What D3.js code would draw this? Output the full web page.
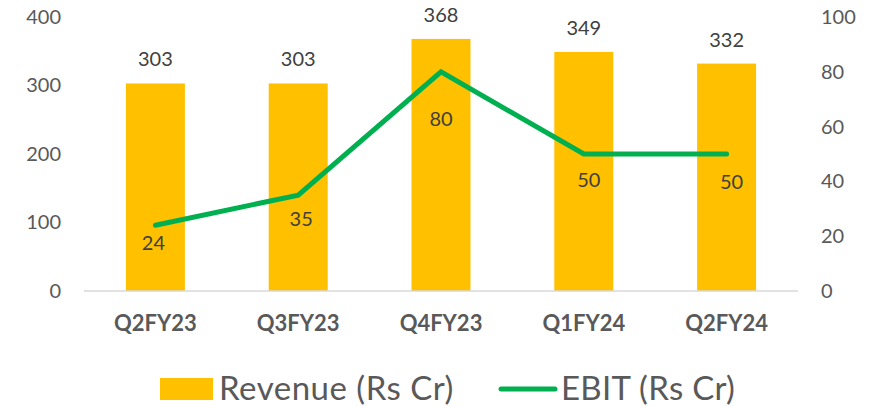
<!DOCTYPE html>
<html>
<head>
<meta charset="utf-8">
<script src="https://cdn.jsdelivr.net/npm/d3@7"></script>
<style>
  body { margin: 0; background: #fff; }
  svg { display: block; font-family: Lato, "Open Sans", sans-serif; }
</style>
</head>
<body>
<div id="chart"></div>
<script>
// data
const quarters = ["Q2FY23", "Q3FY23", "Q4FY23", "Q1FY24", "Q2FY24"];
const revenue = [303, 303, 368, 349, 332];
const ebit = [24, 35, 80, 50, 50];
const leftTicks = [0, 100, 200, 300, 400];
const rightTicks = [0, 20, 40, 60, 80, 100];

// hand placed EBIT label nudges (as in the original deck)
const ebitLabelDx = [-2, 3, 0, 5, 5];
const ebitLabelDy = [18, 24, 47, 26, 28];

const width = 870, height = 407;
const plot = { left: 84, right: 798, top: 17, bottom: 291 };

const svg = d3.select("#chart")
  .append("svg")
    .attr("width", width)
    .attr("height", height);

const x = d3.scaleBand()
  .domain(quarters)
  .range([plot.left, plot.right])
  .paddingInner(0.587)
  .paddingOuter(0.2935);

const yL = d3.scaleLinear().domain([0, 400]).range([plot.bottom, plot.top]);
const yR = d3.scaleLinear().domain([0, 100]).range([plot.bottom, plot.top]);

// left axis
const axL = svg.append("g")
  .attr("transform", `translate(${plot.left - 14},0)`)
  .call(d3.axisLeft(yL).tickValues(leftTicks).tickSize(0).tickPadding(9));
axL.select(".domain").remove();
axL.selectAll("text")
  .style("font-size", "20px")
  .style("font-family", "Lato, sans-serif")
  .attr("fill", "#595959");

// right axis
const axR = svg.append("g")
  .attr("transform", `translate(${plot.right + 14},0)`)
  .call(d3.axisRight(yR).tickValues(rightTicks).tickSize(0).tickPadding(9));
axR.select(".domain").remove();
axR.selectAll("text")
  .style("font-size", "20px")
  .style("font-family", "Lato, sans-serif")
  .attr("fill", "#595959");

// bars
svg.selectAll("rect.bar")
  .data(revenue)
  .join("rect")
    .attr("class", "bar")
    .attr("x", (d, i) => x(quarters[i]))
    .attr("y", d => yL(d))
    .attr("width", x.bandwidth())
    .attr("height", d => yL(0) - yL(d))
    .style("fill", "#FFC000");

// baseline
svg.append("line")
  .attr("x1", plot.left).attr("x2", plot.right)
  .attr("y1", yL(0)).attr("y2", yL(0))
  .attr("stroke", "#D9D9D9")
  .attr("stroke-width", 1.5);

// category axis
const axB = svg.append("g")
  .attr("transform", `translate(0,${plot.bottom})`)
  .call(d3.axisBottom(x).tickSize(0).tickPadding(24));
axB.select(".domain").remove();
axB.selectAll("text")
  .style("font-size", "22px")
  .style("font-weight", "bold")
  .style("font-family", "Lato, sans-serif")
  .attr("fill", "#595959");

// revenue labels
svg.selectAll("text.rev")
  .data(revenue)
  .join("text")
    .attr("class", "rev")
    .attr("x", (d, i) => x(quarters[i]) + x.bandwidth() / 2)
    .attr("y", d => yL(d) - 17)
    .attr("text-anchor", "middle")
    .style("font-size", "20px")
    .attr("fill", "#404040")
    .text(d => d);

// EBIT line
const line = d3.line()
  .x((d, i) => x(quarters[i]) + x.bandwidth() / 2)
  .y(d => yR(d));

svg.append("path")
  .datum(ebit)
  .attr("d", line)
  .attr("fill", "none")
  .attr("stroke", "#00B050")
  .attr("stroke-width", 5)
  .attr("stroke-linecap", "round")
  .attr("stroke-linejoin", "miter");

// EBIT labels
svg.selectAll("text.ebit")
  .data(ebit)
  .join("text")
    .attr("class", "ebit")
    .attr("x", (d, i) => x(quarters[i]) + x.bandwidth() / 2 + ebitLabelDx[i])
    .attr("y", (d, i) => yR(d) + ebitLabelDy[i])
    .attr("dy", "0.35em")
    .attr("text-anchor", "middle")
    .style("font-size", "20px")
    .attr("fill", "#404040")
    .text(d => d);

// legend
const legend = svg.append("g");
legend.append("rect")
  .attr("x", 160).attr("y", 378)
  .attr("width", 53).attr("height", 22)
  .style("fill", "#FFC000");
legend.append("text")
  .attr("x", 219).attr("y", 400)
  .style("font-size", "33px")
  .style("letter-spacing", "0.5px")
  .attr("fill", "#595959")
  .text("Revenue (Rs Cr)");
legend.append("line")
  .attr("x1", 501).attr("x2", 555)
  .attr("y1", 389).attr("y2", 389)
  .attr("stroke", "#00B050")
  .attr("stroke-width", 5)
  .attr("stroke-linecap", "round");
legend.append("text")
  .attr("x", 561).attr("y", 400)
  .style("font-size", "33px")
  .style("letter-spacing", "0.3px")
  .attr("fill", "#595959")
  .text("EBIT (Rs Cr)");
</script>
</body>
</html>
